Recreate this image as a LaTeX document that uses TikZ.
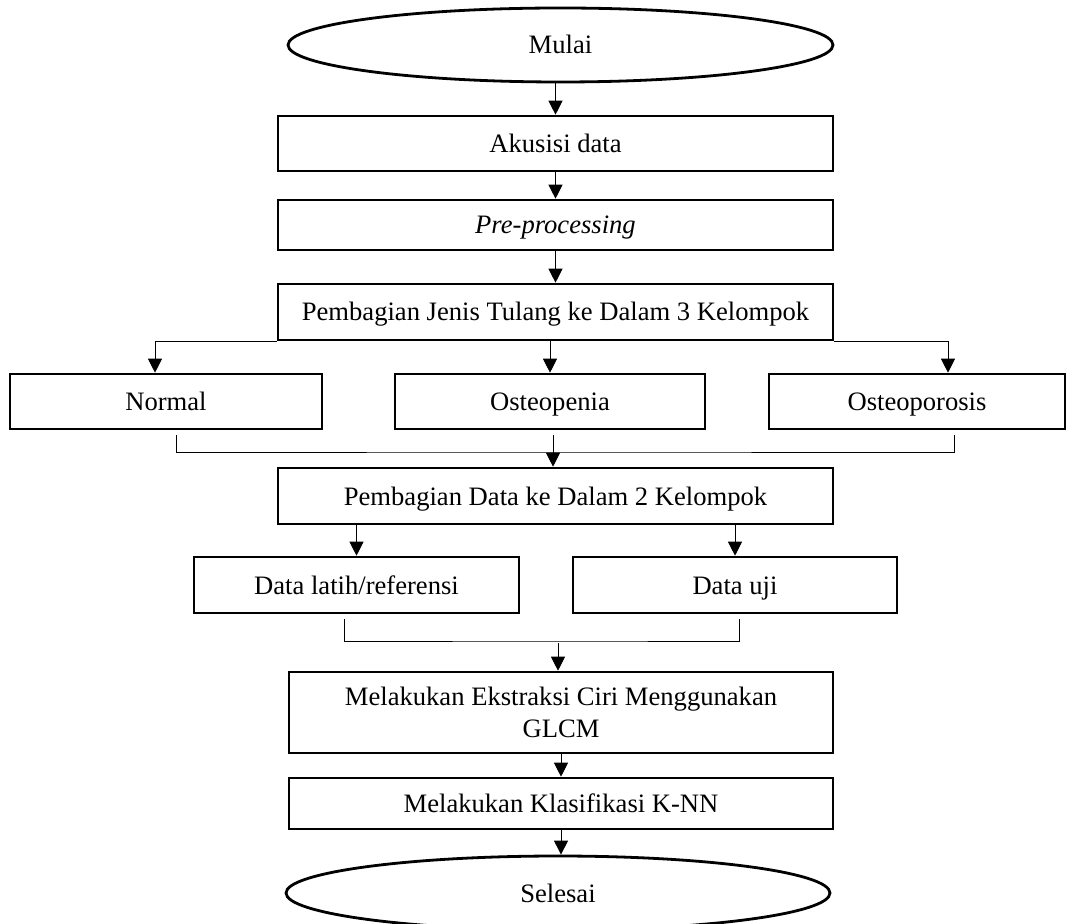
\documentclass[tikz,border=0pt]{standalone}
\usepackage{fontspec}
\setmainfont{Liberation Serif}
\usepackage{tikz}
\usetikzlibrary{arrows.meta,shapes.geometric}

\tikzset{
  blok/.style={draw, line width=1.3pt, inner sep=0pt, align=center},
  satu/.style={blok, text height=9pt, text depth=0pt},
  ujung/.style={draw, ellipse, line width=1.4pt, inner sep=0pt, text height=9pt, text depth=0pt},
  panah/.style={line width=0.5pt, -{Triangle[length=7pt,width=7pt]}},
  garis/.style={line width=0.5pt}
}

\begin{document}
\begin{tikzpicture}[x=0.5pt, y=-0.5pt, font=\fontsize{13.3pt}{16pt}\selectfont]
\useasboundingbox (0,0) rectangle (1069,924);

\node[ujung, minimum width=272.5pt, minimum height=37pt] (MUL) at (560.5,45) {Mulai};
\node[satu, minimum width=277.5pt, minimum height=27.5pt] (AKU) at (555.5,143.5) {Akusisi data};
\node[satu, minimum width=277.5pt, minimum height=25pt] (PRE) at (555.5,225) {\textit{Pre-processing}};
\node[satu, minimum width=277.5pt, minimum height=28pt] (PJT) at (555.5,312) {Pembagian Jenis Tulang ke Dalam 3 Kelompok};

\node[satu, minimum width=156pt, minimum height=27.5pt] (NOR) at (166,401.5) {Normal};
\node[satu, minimum width=155pt, minimum height=27.5pt] (OPE) at (550,401.5) {Osteopenia};
\node[satu, minimum width=148pt, minimum height=27.5pt] (OPO) at (917,401.5) {Osteoporosis};

\node[satu, minimum width=277.5pt, minimum height=28pt] (PDK) at (555.5,496) {Pembagian Data ke Dalam 2 Kelompok};
\node[satu, minimum width=162.5pt, minimum height=28pt] (DLR) at (356.5,585) {Data latih/referensi};
\node[satu, minimum width=162pt, minimum height=28pt] (DUJ) at (735,585) {Data uji};

\node[blok, minimum width=272pt, minimum height=40.5pt] (EKS) at (561,712.5) {Melakukan Ekstraksi Ciri Menggunakan\\GLCM};
\node[satu, minimum width=272pt, minimum height=25.5pt] (KLS) at (561,803.5) {Melakukan Klasifikasi K-NN};
\node[ujung, minimum width=272pt, minimum height=37pt] (SEL) at (558,893) {Selesai};

\coordinate (m1) at (553,452);
\coordinate (m2) at (558,641);

\draw[panah] (AKU.north |- MUL.south) -- (AKU.north);
\draw[panah] (AKU) -- (PRE);
\draw[panah] (PRE) -- (PJT);

% cabang ke tiga kelompok
\draw[panah] (PJT.south west) -| ([xshift=-5.5pt]NOR.north);
\draw[panah] (PJT.south east) -| ([xshift=15.5pt]OPO.north);
\draw[panah] (PJT.south -| OPE.north) -- (OPE.north);

\draw[garis] ([xshift=5pt,yshift=-2.5pt]NOR.south) |- (m1)
  -| ([xshift=18.5pt,yshift=-2.5pt]OPO.south);
\draw[panah] ([xshift=1.5pt,yshift=-2.5pt]OPE.south) -- (m1 |- PDK.north);

% cabang ke dua kelompok
\draw[panah] (DLR.north |- PDK.south) -- (DLR.north);
\draw[panah] (DUJ.north |- PDK.south) -- (DUJ.north);

\draw[garis] ([xshift=-6pt,yshift=-2.5pt]DLR.south) |- (m2)
  -| ([xshift=2pt,yshift=-2.5pt]DUJ.south);
\draw[panah] ([yshift=-1pt]m2) -- (m2 |- EKS.north);

\draw[panah] (EKS) -- (KLS);
\draw[panah] (KLS.south) -- (KLS.south |- SEL.north);

\end{tikzpicture}
\end{document}
